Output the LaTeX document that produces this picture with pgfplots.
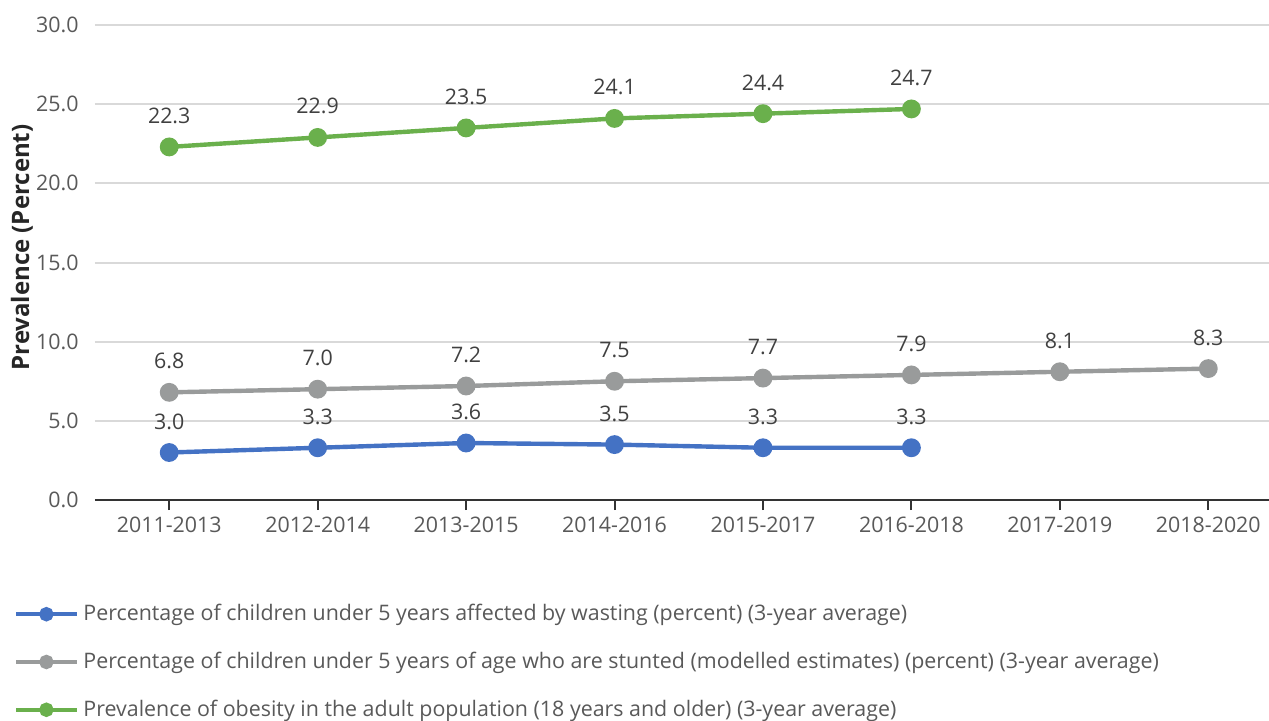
\documentclass[border=0pt]{standalone}
\usepackage{pgfplots}
\pgfplotsset{compat=1.18}
\usepackage{fontspec}
\setmainfont{Open Sans}
\definecolor{cblue}{RGB}{68,114,196}
\definecolor{cgray}{RGB}{153,155,155}
\definecolor{cgreen}{RGB}{106,176,76}
\definecolor{tickc}{RGB}{89,89,89}
\definecolor{labc}{RGB}{64,64,64}
\definecolor{gridc}{RGB}{217,217,217}
\begin{document}
\begin{tikzpicture}
\useasboundingbox (0,0) rectangle (634.5pt,360pt);
\begin{axis}[
  at={(47.5pt,110pt)}, anchor=south west,
  scale only axis, width=587pt, height=237.5pt,
  xmin=-0.5, xmax=7.409, ymin=0, ymax=30,
  xtick={0,...,7},
  xticklabels={2011-2013,2012-2014,2013-2015,2014-2016,2015-2017,2016-2018,2017-2019,2018-2020},
  ytick={0,5,...,30},
  /pgf/number format/assume math mode=true,
  yticklabel style={inner xsep=0pt, xshift=-3pt, /pgf/number format/fixed, /pgf/number format/fixed zerofill, /pgf/number format/precision=1},
  axis x line*=bottom, axis y line*=left,
  separate axis lines,
  x axis line style={draw=black!80, line width=1pt, -},
  y axis line style={draw=none},
  ytick style={draw=none},
  xtick style={draw=black!80, line width=1pt},
  tick align=outside, major tick length=5pt,
  ymajorgrids, grid style={gridc, line width=1pt},
  tick label style={font=\fontsize{10.7}{12.8}\selectfont, text=tickc},
  ylabel={Prevalence (Percent)},
  ylabel style={font=\fontsize{12}{14}\selectfont\bfseries, text=black!85, at={(axis description cs:-0.0622,0.5316)}, anchor=center, rotate=0},
  clip=false,
  nodes near coords={\pgfmathprintnumber[fixed,fixed zerofill,precision=1]{\pgfplotspointmeta}},
  every node near coord/.append style={font=\fontsize{10.7}{12.8}\selectfont, text=labc, anchor=south, inner sep=0pt, yshift=10.5pt},
  every axis plot/.append style={line width=2.2pt, mark=*, mark size=3.6pt, mark options={solid}},
  legend style={at={(axis description cs:-0.069,-0.2192)}, anchor=north west, draw=none, fill=none,
    font=\fontsize{10.7}{12.8}\selectfont, text=tickc, row sep=14.2pt, inner sep=0pt,
    nodes={inner xsep=2pt, inner ysep=0pt}},
  legend cell align=left,
  legend image code/.code={\draw[mark repeat=2,mark phase=2,#1,line width=2pt,mark size=2.6pt] plot coordinates {(0pt,0pt) (15pt,0pt) (30.5pt,0pt)};},
]
\addplot[color=cblue] coordinates {(0,3.0) (1,3.3) (2,3.6) (3,3.5) (4,3.3) (5,3.3)};
\addlegendentry{Percentage of children under 5 years affected by wasting (percent) (3-year average)}
\addplot[color=cgray] coordinates {(0,6.8) (1,7.0) (2,7.2) (3,7.5) (4,7.7) (5,7.9) (6,8.1) (7,8.3)};
\addlegendentry{Percentage of children under 5 years of age who are stunted (modelled estimates) (percent) (3-year average)}
\addplot[color=cgreen] coordinates {(0,22.3) (1,22.9) (2,23.5) (3,24.1) (4,24.4) (5,24.7)};
\addlegendentry{Prevalence of obesity in the adult population (18 years and older) (3-year average)}
\end{axis}
\end{tikzpicture}
\end{document}
